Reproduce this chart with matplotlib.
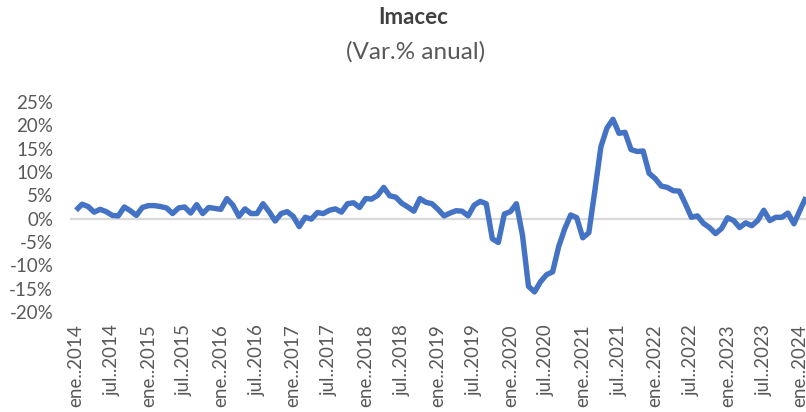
import matplotlib
matplotlib.use("Agg")
import matplotlib.pyplot as plt
from matplotlib.ticker import FuncFormatter

# Imacec, variacion % anual, mensual ene.2014 - feb.2024
imacec = [
    # 2014
    1.8, 3.1, 2.6, 1.4, 2.0, 1.5, 0.7, 0.6, 2.5, 1.7, 0.7, 2.4,
    # 2015
    2.8, 2.8, 2.6, 2.3, 1.1, 2.3, 2.5, 1.2, 3.0, 1.1, 2.4, 2.2,
    # 2016
    2.0, 4.3, 2.9, 0.5, 2.1, 1.1, 1.1, 3.2, 1.5, -0.5, 1.1, 1.5,
    # 2017
    0.5, -1.7, 0.3, -0.1, 1.3, 1.1, 1.8, 2.1, 1.4, 3.2, 3.4, 2.4,
    # 2018
    4.3, 4.2, 5.0, 6.7, 4.9, 4.6, 3.3, 2.5, 1.6, 4.3, 3.5, 3.2,
    # 2019
    2.0, 0.6, 1.2, 1.7, 1.6, 0.6, 2.9, 3.7, 3.2, -4.3, -5.1, 1.0,
    # 2020
    1.5, 3.2, -3.5, -14.5, -15.7, -13.5, -12.0, -11.4, -6.0, -2.2, 0.8, 0.2,
    # 2021
    -4.1, -3.0, 6.0, 15.4, 19.4, 21.3, 18.3, 18.5, 14.8, 14.4, 14.5, 9.7,
    # 2022
    8.6, 7.0, 6.7, 6.0, 5.9, 3.2, 0.3, 0.6, -1.0, -1.9, -3.2, -2.1,
    # 2023
    0.2, -0.4, -1.9, -0.9, -1.5, -0.4, 1.8, -0.4, 0.3, 0.3, 1.2, -1.1,
    # 2024
    1.8, 4.6,
]

meses = ["ene.", "jul."]
anios = list(range(2014, 2025))
etiquetas = []
for a in anios:
    for m in meses:
        etiquetas.append(m + "." + str(a))
etiquetas = etiquetas[:21]  # hasta ene..2024
posiciones = list(range(0, 121, 6))

plt.rcParams["font.family"] = ["Lato", "DejaVu Sans"]
gris = "#595959"

fig = plt.figure(figsize=(8.06, 4.12), dpi=100)
ax = fig.add_axes([70 / 806, 1 - 312 / 412, 736 / 806, 210 / 412])

x = list(range(len(imacec)))
ax.axhline(0, color="#d9d9d9", lw=1.6, zorder=1)
ax.plot(x, imacec, color="#4472c4", lw=3.9, solid_joinstyle="round",
        solid_capstyle="butt", zorder=3)

ax.set_xlim(-1, 121)
ax.set_ylim(-20, 25)
ax.set_yticks(range(-20, 26, 5))
ax.yaxis.set_major_formatter(FuncFormatter(lambda v, p: f"{v:.0f}%"))
ax.set_xticks(posiciones)
ax.set_xticklabels(etiquetas, rotation=90, va="top", ha="center")

ax.tick_params(axis="both", length=0, colors=gris, labelsize=13.5)
ax.tick_params(axis="x", pad=9)
ax.tick_params(axis="y", pad=12)
for s in ax.spines.values():
    s.set_visible(False)

fig.text(0.513, 1 - 18 / 412, "Imacec", ha="center", va="center",
         fontsize=16, fontweight="bold", color="#404040")
fig.text(0.516, 1 - 52 / 412, "(Var.% anual)", ha="center", va="center",
         fontsize=17.5, color=gris)

fig.savefig("out.png", dpi=100)
